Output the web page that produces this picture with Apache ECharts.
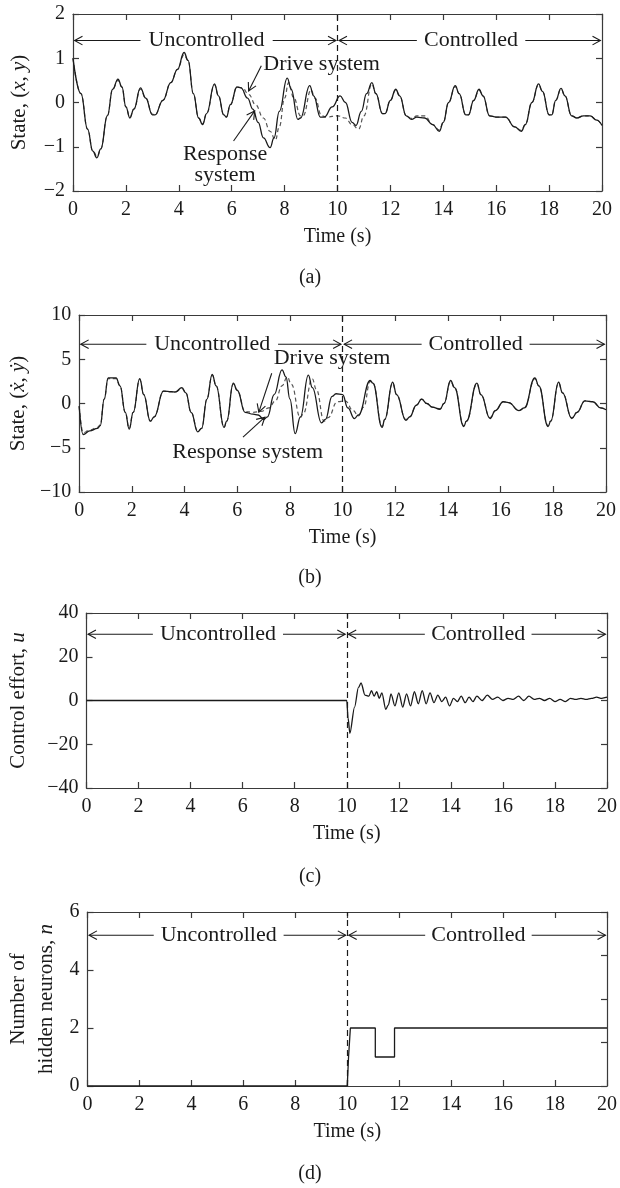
<!DOCTYPE html>
<html>
<head>
<meta charset="utf-8">
<script src="https://cdn.jsdelivr.net/npm/echarts@6/dist/echarts.min.js"></script>
<style>
html,body{margin:0;padding:0;background:#fff;}
#chart{width:620px;height:1188px;}
</style>
</head>
<body>
<div id="chart"></div>
<script>
// ---------------- DATA ----------------
const panelLabels = ['(a)', '(b)', '(c)', '(d)'];
const xTitle = 'Time (s)';

// (a) state (x, y)
const aDrive = [[0,1.0],[0.3,0.2],[0.55,-0.6],[0.75,-1.1],[0.9,-1.25],[1.05,-1.05],[1.3,-0.3],[1.5,0.3],[1.7,0.53],[1.85,0.35],[2.0,-0.1],[2.15,-0.35],[2.3,-0.15],[2.55,0.33],[2.75,0.1],[3.0,-0.28],[3.1,-0.28],[3.4,0.05],[3.7,0.45],[3.95,0.75],[4.2,1.13],[4.35,0.95],[4.55,0.2],[4.75,-0.35],[4.9,-0.5],[5.05,-0.25],[5.35,0.42],[5.5,0.15],[5.7,-0.28],[5.8,-0.33],[5.95,-0.05],[6.2,0.35],[6.35,0.33],[6.6,0.1],[6.8,-0.15],[7.0,-0.45],[7.2,-0.8],[7.45,-1.02],[7.6,-0.8],[7.8,-0.2],[8.1,0.55],[8.25,0.3],[8.5,-0.38],[8.6,-0.35],[8.95,0.38],[9.1,0.15],[9.35,-0.33],[9.5,-0.33],[9.8,-0.1],[10.1,0.15],[10.3,0.0],[10.55,-0.45],[10.7,-0.52],[10.9,-0.2],[11.1,0.2],[11.3,0.45],[11.45,0.2],[11.7,-0.25],[11.8,-0.25],[12.0,0.05],[12.2,0.3],[12.35,0.15],[12.6,-0.3],[12.8,-0.38],[13.0,-0.33],[13.3,-0.35],[13.6,-0.5],[13.85,-0.65],[14.0,-0.45],[14.2,0.0],[14.45,0.38],[14.6,0.2],[14.85,-0.28],[14.95,-0.28],[15.15,0.05],[15.35,0.3],[15.5,0.15],[15.75,-0.3],[16.0,-0.33],[16.35,-0.33],[16.7,-0.55],[16.95,-0.65],[17.1,-0.5],[17.35,0.0],[17.6,0.42],[17.75,0.25],[18.0,-0.28],[18.1,-0.28],[18.25,0.05],[18.45,0.32],[18.6,0.15],[18.85,-0.3],[19.05,-0.35],[19.3,-0.3],[19.55,-0.3],[19.8,-0.4],[20.0,-0.52]];
const aResponse = [[0,1.0],[0.3,0.2],[0.55,-0.6],[0.75,-1.1],[0.92,-1.22],[1.05,-1.05],[1.3,-0.3],[1.5,0.3],[1.7,0.5],[1.85,0.35],[2.0,-0.1],[2.15,-0.33],[2.3,-0.15],[2.55,0.3],[2.75,0.1],[3.0,-0.26],[3.1,-0.28],[3.4,0.05],[3.7,0.45],[3.95,0.75],[4.2,1.08],[4.35,0.95],[4.55,0.2],[4.75,-0.35],[4.9,-0.48],[5.05,-0.25],[5.35,0.4],[5.5,0.15],[5.7,-0.28],[5.8,-0.33],[5.95,-0.05],[6.2,0.35],[6.4,0.33],[6.65,0.18],[6.9,-0.05],[7.2,-0.35],[7.45,-0.65],[7.65,-0.85],[7.8,-0.55],[8.0,0.1],[8.15,0.45],[8.35,0.1],[8.6,-0.3],[8.7,-0.3],[9.0,0.28],[9.15,0.1],[9.4,-0.3],[9.6,-0.33],[10.0,-0.3],[10.3,-0.35],[10.55,-0.5],[10.8,-0.6],[11.0,-0.3],[11.3,0.42],[11.45,0.2],[11.7,-0.25],[11.8,-0.25],[12.0,0.05],[12.2,0.28],[12.35,0.15],[12.6,-0.3],[12.8,-0.36],[13.0,-0.3],[13.3,-0.3],[13.6,-0.5],[13.85,-0.62],[14.0,-0.45],[14.2,0.0],[14.45,0.36],[14.6,0.2],[14.85,-0.28],[14.95,-0.28],[15.15,0.05],[15.35,0.28],[15.5,0.15],[15.75,-0.3],[16.0,-0.33],[16.35,-0.33],[16.7,-0.55],[16.95,-0.63],[17.1,-0.5],[17.35,0.0],[17.6,0.4],[17.75,0.25],[18.0,-0.28],[18.1,-0.28],[18.25,0.05],[18.45,0.3],[18.6,0.15],[18.85,-0.3],[19.05,-0.35],[19.3,-0.3],[19.55,-0.3],[19.8,-0.4],[20.0,-0.52]];

// (b) state derivative
const bDrive = [[0,-0.3],[0.15,-3.5],[0.4,-3.1],[0.7,-2.8],[0.8,-2.5],[0.95,0.5],[1.1,2.9],[1.4,2.9],[1.55,2.0],[1.75,-1.0],[1.9,-2.9],[2.05,-1.0],[2.3,2.8],[2.45,1.0],[2.7,-2.0],[2.85,-1.5],[3.2,1.4],[3.5,1.35],[3.65,1.3],[3.9,1.8],[4.05,1.2],[4.25,-1.0],[4.5,-3.2],[4.65,-2.8],[4.85,0.5],[5.05,3.3],[5.2,2.0],[5.5,-2.7],[5.6,-2.0],[5.85,2.3],[6.0,1.5],[6.3,-1.0],[6.6,-1.2],[6.8,-1.3],[7.0,-1.8],[7.15,-1.5],[7.4,1.0],[7.7,3.8],[7.85,3.0],[8.0,0.5],[8.2,-3.4],[8.4,-1.5],[8.7,3.2],[8.85,1.8],[9.2,-2.2],[9.35,-1.8],[9.6,0.8],[9.75,1.1],[10.0,1.0],[10.2,-0.5],[10.45,-1.7],[10.6,-1.3],[11.05,2.6],[11.15,2.3],[11.5,-2.7],[11.6,-1.8],[11.9,2.4],[12.05,1.0],[12.4,-1.9],[12.55,-1.5],[12.8,-0.2],[13.0,0.5],[13.2,0.0],[13.4,-0.4],[13.7,-0.65],[13.85,0.0],[14.1,2.6],[14.25,1.8],[14.6,-2.6],[14.7,-2.0],[15.1,2.3],[15.25,1.0],[15.6,-1.7],[15.8,-0.8],[16.1,0.2],[16.3,0.1],[16.7,-0.8],[16.9,-0.5],[17.3,2.9],[17.45,2.0],[17.8,-2.6],[17.9,-2.0],[18.2,2.4],[18.35,1.2],[18.7,-1.7],[18.9,-1.0],[19.2,0.3],[19.5,0.2],[19.8,-0.5],[20.0,-0.7]];
const bResponse = [[0,-0.3],[0.15,-3.3],[0.4,-3.0],[0.7,-2.7],[0.8,-2.4],[0.95,0.5],[1.1,2.8],[1.4,2.8],[1.55,2.0],[1.75,-1.0],[1.9,-2.8],[2.05,-1.0],[2.3,2.7],[2.45,1.0],[2.7,-2.0],[2.85,-1.5],[3.2,1.4],[3.5,1.3],[3.65,1.3],[3.9,1.7],[4.05,1.2],[4.25,-1.0],[4.5,-3.1],[4.65,-2.8],[4.85,0.5],[5.05,3.2],[5.2,2.0],[5.5,-2.7],[5.6,-2.0],[5.85,2.2],[6.0,1.5],[6.3,-0.9],[6.6,-1.0],[6.9,-0.9],[7.2,-0.5],[7.45,0.3],[7.7,2.0],[7.9,3.0],[8.05,2.2],[8.4,-1.6],[8.5,-1.2],[8.85,2.8],[9.0,1.6],[9.3,-2.0],[9.45,-1.6],[9.8,0.2],[10.1,0.3],[10.4,-0.8],[10.6,-1.4],[10.8,-0.4],[11.05,2.5],[11.15,2.3],[11.5,-2.6],[11.6,-1.8],[11.9,2.3],[12.05,1.0],[12.4,-1.8],[12.55,-1.5],[12.8,-0.2],[13.0,0.5],[13.2,0.0],[13.4,-0.4],[13.7,-0.6],[13.85,0.0],[14.1,2.5],[14.25,1.8],[14.6,-2.5],[14.7,-2.0],[15.1,2.2],[15.25,1.0],[15.6,-1.6],[15.8,-0.8],[16.1,0.2],[16.3,0.1],[16.7,-0.8],[16.9,-0.5],[17.3,2.8],[17.45,2.0],[17.8,-2.5],[17.9,-2.0],[18.2,2.3],[18.35,1.2],[18.7,-1.6],[18.9,-1.0],[19.2,0.3],[19.5,0.2],[19.8,-0.5],[20.0,-0.7]];

// (c) control effort u
const cEffort = [[0,0],[10.0,0],[10.05,-8],[10.12,-15],[10.3,-3],[10.45,6],[10.55,8],[10.7,2.5],[10.85,2],[10.95,4.5],[11.05,2],[11.15,4],[11.25,1],[11.35,3.5],[11.5,-4],[11.6,-2],[11.7,3],[11.85,-2.5],[12.0,3.5],[12.15,-3],[12.3,3],[12.45,-2.5],[12.6,4],[12.75,-1.5],[12.9,4.5],[13.05,-1.5],[13.2,3.5],[13.35,-1],[13.5,2.5],[13.65,-0.5],[13.8,1.5],[13.95,-2.5],[14.1,1],[14.25,-0.5],[14.4,2],[14.55,-1],[14.7,1.5],[14.85,-0.5],[15.0,2],[15.2,0],[15.4,2.5],[15.6,0.5],[15.8,1.5],[16.0,0],[16.2,1],[16.4,0.5],[16.6,2],[16.8,0],[17.0,2],[17.2,0.5],[17.4,1],[17.6,0],[17.8,1],[18.0,-0.5],[18.2,0.5],[18.4,-0.5],[18.6,1],[18.8,0.5],[19.0,1],[19.2,0.5],[19.4,1],[19.6,1.5],[19.8,1],[20.0,1.5]];

// (d) number of hidden neurons n
const dNeurons = [[0,0],[10.0,0],[10.05,1],[10.12,1],[10.12,2],[11.08,2],[11.08,1],[11.82,1],[11.82,2],[20,2]];

// annotation texts / arrows (data coordinates)
const regionTexts = ['Uncontrolled', 'Controlled'];
const regionTextX = [5.05, 15.05];
const regionArrowX = [[2.55,0.06],[7.55,9.94],[13.0,10.06],[17.1,19.94]];
const regionRowY = [1.4, 6.7, 30.3, 5.2];
const aNotes = [['Drive system', 9.4, 0.87], ['Response\nsystem', 5.75, -1.40]];
const aNoteArrows = [[7.12,0.83,6.64,0.26],[6.07,-0.87,6.87,-0.19]];
const bNotes = [['Drive system', 9.6, 5.1], ['Response system', 6.4, -5.5]];
const bNoteArrows = [[7.31,3.42,6.82,-0.98],[6.22,-3.8,7.05,-1.55]];
const switchTime = 10;

// ---------------- CHART ----------------
const FONT = "'Liberation Serif', 'DejaVu Serif', serif";
const FS = 20;      // tick labels, axis title
const FN = 22;      // annotation words
const INK = '#1a1a1a';
const AX = '#3a3a3a';

const grids = [
  {left:73, top:14, width:529, height:177},
  {left:76, top:315, width:530, height:177},
  {left:79, top:613, width:530, height:175},
  {left:82, top:912, width:529, height:174}
];
const yCfg = [
  {min:-2, max:2, interval:1, rmin:-2, rmax:2, rint:1, gap:40,
   name:'{r|State, (}{i|x}{r|, }{i|y}{r|)}'},
  {min:-10, max:10, interval:5, rmin:-10, rmax:10, rint:5, gap:43,
   name:'{r|State, (}{i|ẋ}{r|, }{i|ẏ}{r|)}'},
  {min:-40, max:40, interval:20, rmin:-40, rmax:40, rint:20, gap:54,
   name:'{r|Control effort, }{i|u}'},
  {min:0, max:6, interval:2, rmin:0, rmax:4, rint:1, gap:27,
   name:'{r|Number of}\n{r|hidden neurons, }{i|n}'}
];
const rich = {
  r:{fontFamily:FONT, fontSize:21, color:INK, lineHeight:28},
  i:{fontFamily:FONT, fontSize:21, fontStyle:'italic', color:INK, lineHeight:28}
};
const fmt = v => (v < 0 ? '\u2212' + Math.abs(v) : String(v));

const xAxes = [], yAxes = [], series = [], titles = [];
grids.forEach((g, i) => {
  const common = {gridIndex:i, type:'value', min:0, max:20, interval:2,
    axisLine:{onZero:false, lineStyle:{color:AX, width:1.2}},
    axisTick:{inside:true, length:6, lineStyle:{color:AX, width:1.2}},
    splitLine:{show:false}};
  xAxes.push(Object.assign({}, common, {position:'bottom',
    axisLabel:{margin:9, fontFamily:FONT, fontSize:FS, color:INK, formatter:fmt},
    name:xTitle, nameLocation:'middle', nameGap:36,
    nameTextStyle:{fontFamily:FONT, fontSize:FS, color:INK}}));
  xAxes.push(Object.assign({}, common, {position:'top', axisLabel:{show:false}}));
  const c = yCfg[i];
  yAxes.push({gridIndex:i, type:'value', position:'left', min:c.min, max:c.max, interval:c.interval,
    axisLine:{onZero:false, lineStyle:{color:AX, width:1.2}},
    axisTick:{inside:true, length:6, lineStyle:{color:AX, width:1.2}},
    splitLine:{show:false},
    axisLabel:{margin:8, fontFamily:FONT, fontSize:FS, color:INK, formatter:fmt},
    name:c.name, nameLocation:'middle', nameGap:c.gap, nameRotate:90,
    nameTextStyle:{rich:rich, align:'center'}});
  yAxes.push({gridIndex:i, type:'value', position:'right', min:c.rmin, max:c.rmax, interval:c.rint,
    axisLine:{onZero:false, lineStyle:{color:AX, width:1.2}},
    axisTick:{inside:true, length:6, lineStyle:{color:AX, width:1.2}},
    splitLine:{show:false}, axisLabel:{show:false}});
  titles.push({text:panelLabels[i], left:'center', top:[268,568,867,1164][i], padding:0,
    textStyle:{fontFamily:FONT, fontSize:FS, fontWeight:'normal', color:INK}});
});

const xi = i => 2*i, yi = i => 2*i;

function lineSeries(i, data, dashed, extra) {
  return Object.assign({type:'line', xAxisIndex:xi(i), yAxisIndex:yi(i), data:data,
    showSymbol:false, symbol:'none', smooth:0.45, smoothMonotone:'x', z:dashed?3:4,
    lineStyle: dashed ? {color:'#555', width:1.2, type:[4,3]} : {color:INK, width:1.3},
    animation:false}, extra||{});
}

function switchLine() {
  return {silent:true, symbol:['none','none'], label:{show:false},
    lineStyle:{color:INK, type:[6,4], width:1.2}, data:[{xAxis:switchTime}], animation:false};
}

series.push(lineSeries(0, aResponse, true));
series.push(lineSeries(0, aDrive, false, {markLine:switchLine()}));
series.push(lineSeries(1, bResponse, true));
series.push(lineSeries(1, bDrive, false, {markLine:switchLine()}));
series.push(lineSeries(2, cEffort, false, {smooth:0.3, markLine:switchLine()}));
series.push(lineSeries(3, dNeurons, false, {smooth:false, markLine:switchLine()}));

function arrowSeries(i, arrows) {
  return {type:'custom', xAxisIndex:xi(i), yAxisIndex:yi(i), data:arrows, clip:false, silent:true, z:6,
    encode:{x:[0,2], y:[1,3]},
    renderItem:function(params, api){
      const p1 = api.coord([api.value(0), api.value(1)]);
      const p2 = api.coord([api.value(2), api.value(3)]);
      const ang = Math.atan2(p2[1]-p1[1], p2[0]-p1[0]);
      const L = 9, A = 0.5;
      const h1 = [p2[0]-L*Math.cos(ang-A), p2[1]-L*Math.sin(ang-A)];
      const h2 = [p2[0]-L*Math.cos(ang+A), p2[1]-L*Math.sin(ang+A)];
      return {type:'group', children:[
        {type:'line', shape:{x1:p1[0], y1:p1[1], x2:p2[0], y2:p2[1]}, style:{stroke:INK, lineWidth:1.1}},
        {type:'polyline', shape:{points:[h1, p2, h2]}, style:{stroke:INK, lineWidth:1.1, fill:null}}
      ]};
    }, animation:false};
}
function textSeries(i, notes) {
  return {type:'custom', xAxisIndex:xi(i), yAxisIndex:yi(i), clip:false, silent:true, z:7,
    data:notes.map(n => [n[1], n[2]]), encode:{x:0, y:1},
    renderItem:function(params, api){
      const p = api.coord([api.value(0), api.value(1)]);
      return {type:'text', x:p[0], y:p[1], style:{text:notes[params.dataIndex][0], fontFamily:FONT, fontSize:FN,
        fill:INK, align:'center', verticalAlign:'middle', lineHeight:21}};
    }, animation:false};
}

grids.forEach((g, i) => {
  const y = regionRowY[i];
  series.push(arrowSeries(i, regionArrowX.map(a => [a[0], y, a[1], y])));
  series.push(textSeries(i, regionTexts.map((t, k) => [t, regionTextX[k], y])));
});
series.push(arrowSeries(0, aNoteArrows));
series.push(textSeries(0, aNotes));
series.push(arrowSeries(1, bNoteArrows));
series.push(textSeries(1, bNotes));

const chart = echarts.init(document.getElementById('chart'), null, {renderer:'canvas'});
chart.setOption({
  animation:false,
  backgroundColor:'#ffffff',
  title:titles,
  grid:grids.map(g => Object.assign({containLabel:false}, g)),
  xAxis:xAxes,
  yAxis:yAxes,
  series:series
});
</script>
</body>
</html>
